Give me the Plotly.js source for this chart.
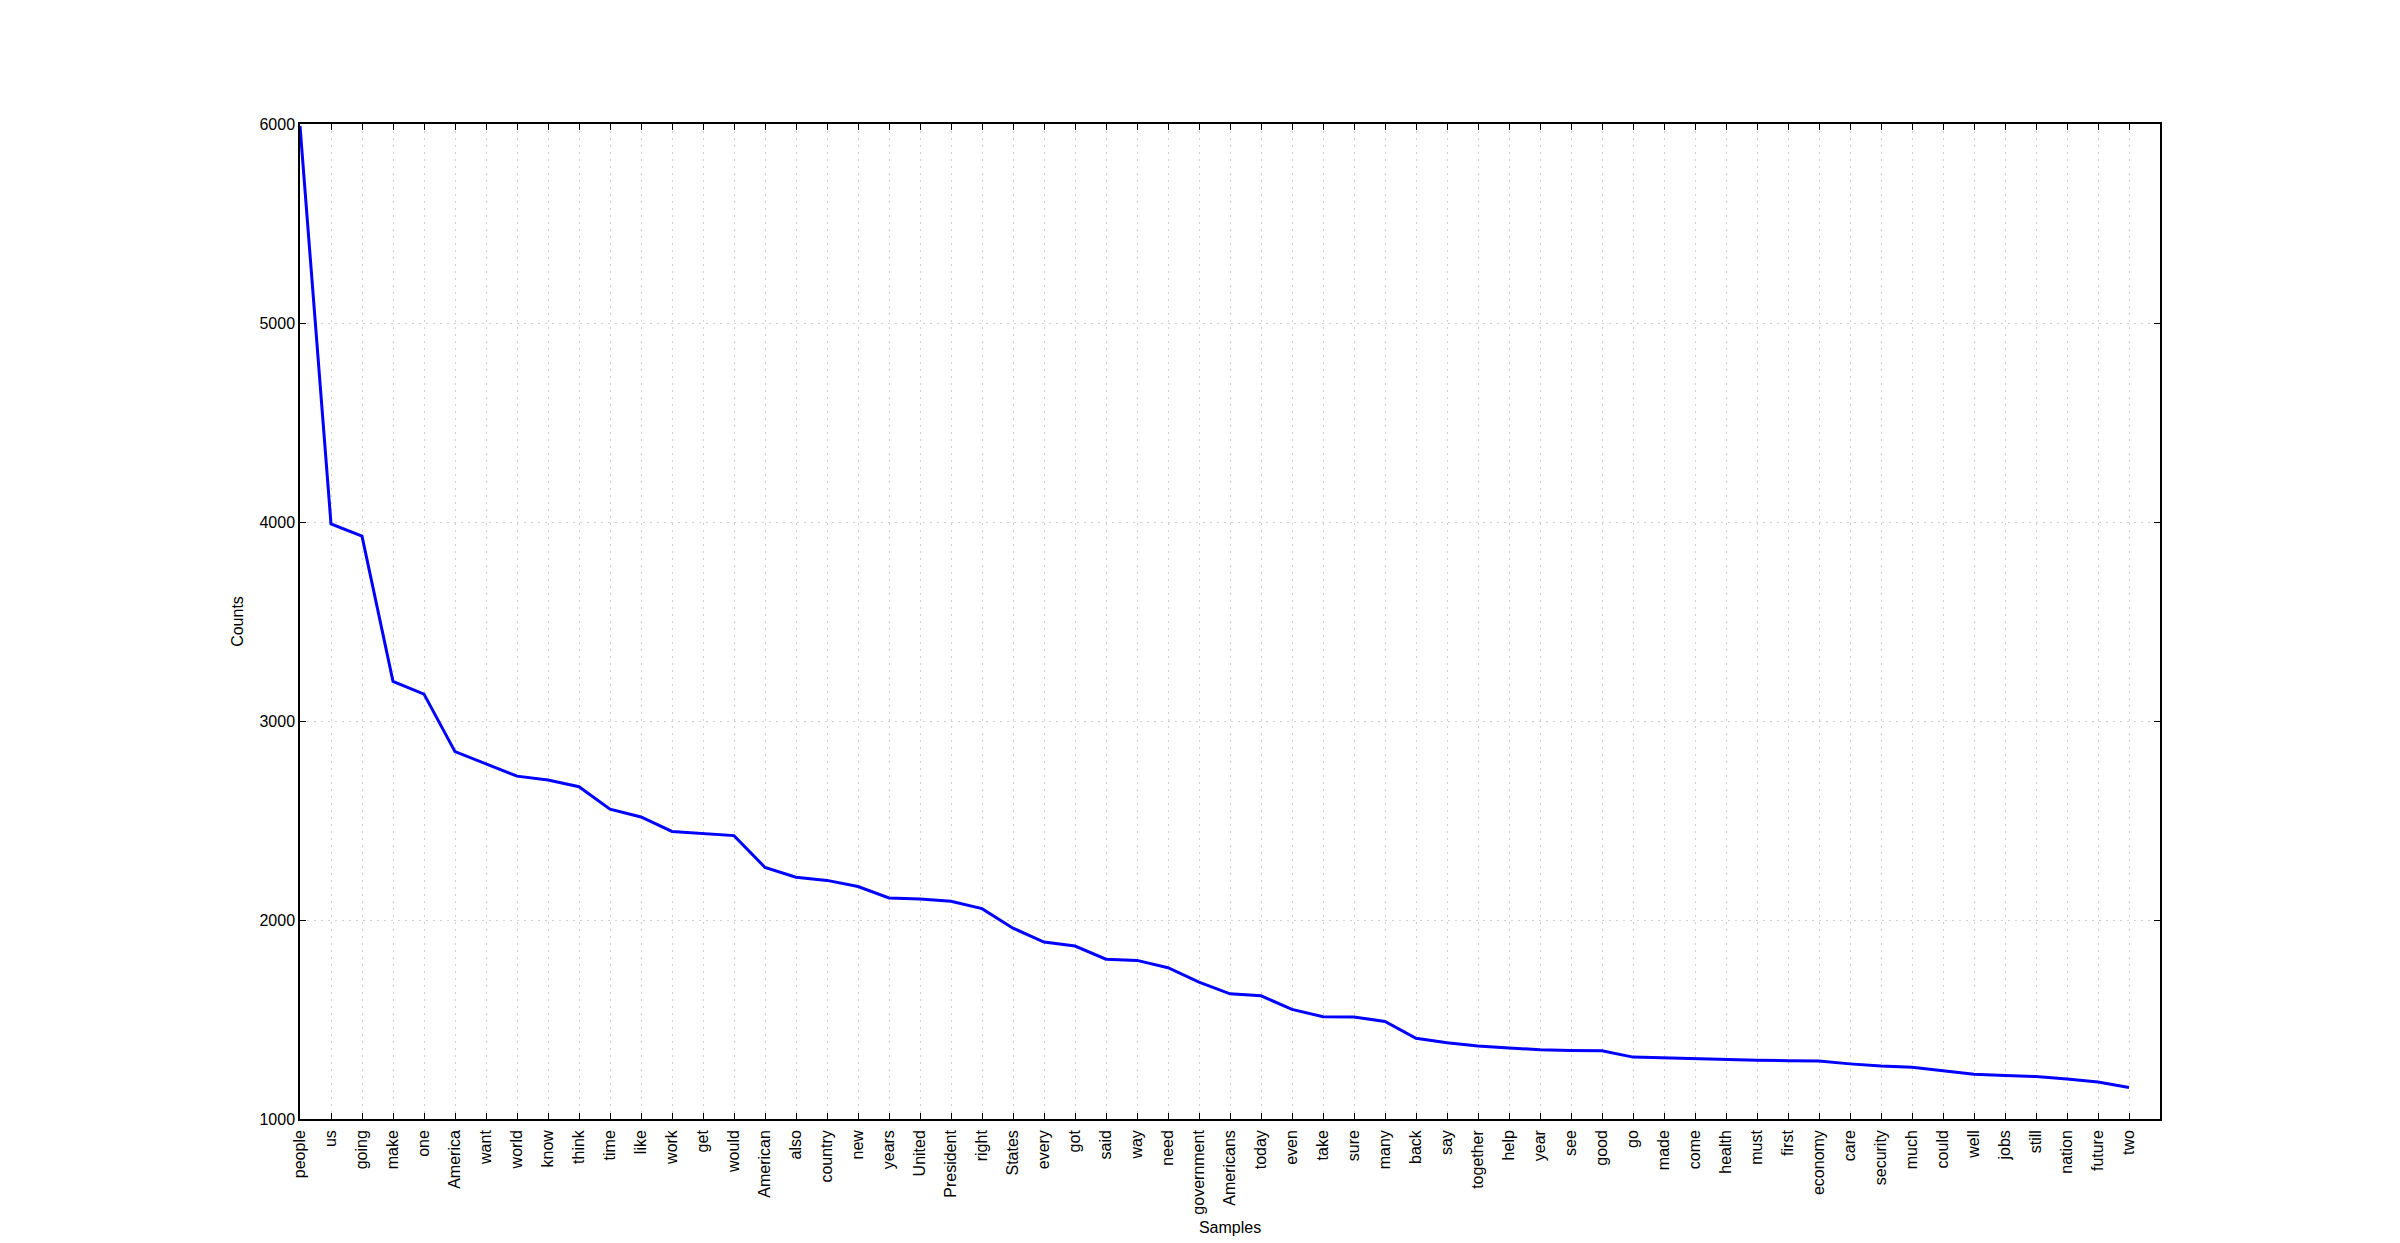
<!DOCTYPE html>
<html>
<head>
<meta charset="utf-8">
<script src="https://cdn.plot.ly/plotly-3.0.1.min.js"></script>
<style>html,body{margin:0;padding:0;background:#fff;}#chart{width:2400px;height:1243px;}</style>
</head>
<body>
<div id="chart"></div>
<script>
const samples = ["people","us","going","make","one","America","want","world","know","think","time","like","work","get","would","American","also","country","new","years","United","President","right","States","every","got","said","way","need","government","Americans","today","even","take","sure","many","back","say","together","help","year","see","good","go","made","come","health","must","first","economy","care","security","much","could","well","jobs","still","nation","future","two"];
const counts = [5990,3990,3929,3199,3135,2846,2785,2723,2703,2670,2557,2518,2445,2436,2424,2264,2215,2199,2168,2111,2106,2094,2057,1959,1889,1869,1803,1797,1760,1688,1629,1619,1551,1514,1513,1490,1406,1383,1367,1357,1348,1344,1343,1311,1307,1301,1297,1295,1293,1291,1277,1266,1260,1242,1225,1219,1213,1201,1186,1158];
const yTicks = [1000,2000,3000,4000,5000,6000];

const font = {family: "Liberation Sans, Arial, sans-serif", size: 16, color: "#000"};

const trace = {
  type: "scatter",
  mode: "lines",
  x: samples,
  y: counts,
  line: {color: "#0000ff", width: 3},
  hoverinfo: "x+y"
};

const layout = {
  width: 2400,
  height: 1243,
  margin: {l: 300, r: 240, t: 124, b: 124, pad: 0},
  paper_bgcolor: "#ffffff",
  plot_bgcolor: "#ffffff",
  showlegend: false,
  font: font,
  xaxis: {
    type: "category",
    range: [0, 60],
    autorange: false,
    tickmode: "array",
    tickvals: samples,
    ticktext: samples,
    tickangle: -90,
    ticks: "inside",
    ticklen: 6,
    tickwidth: 1,
    tickcolor: "#000",
    showline: true,
    linecolor: "#000",
    linewidth: 1.5,
    mirror: "ticks",
    showgrid: true,
    gridcolor: "#cfcfcf",
    gridwidth: 1,
    griddash: "2px,5px",
    zeroline: false,
    tickfont: font,
    ticklabelstandoff: 3,
    title: {text: "Samples", font: {family: font.family, size: 16, color: "#000"}, standoff: 8}
  },
  yaxis: {
    range: [1000, 6000],
    autorange: false,
    tickmode: "array",
    tickvals: yTicks,
    ticktext: yTicks.map(String),
    ticks: "inside",
    ticklen: 6,
    tickwidth: 1,
    tickcolor: "#000",
    showline: true,
    linecolor: "#000",
    linewidth: 1.5,
    mirror: "ticks",
    showgrid: true,
    gridcolor: "#cfcfcf",
    gridwidth: 1,
    griddash: "2px,5px",
    zeroline: false,
    tickfont: font,
    title: {text: "Counts", font: {family: font.family, size: 16, color: "#000"}, standoff: 12}
  }
};

Plotly.newPlot("chart", [trace], layout, {displayModeBar: false});
</script>
</body>
</html>
